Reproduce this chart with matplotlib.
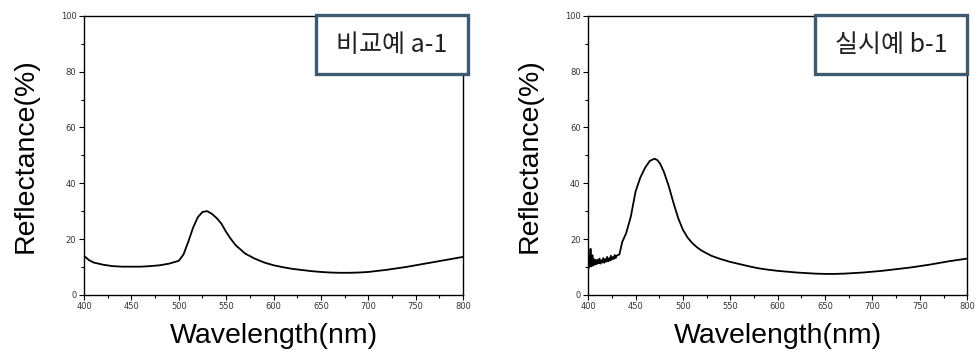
import matplotlib
matplotlib.use("Agg")
import matplotlib.pyplot as plt
from matplotlib.patches import Rectangle
from matplotlib.ticker import MultipleLocator

# 비교예 a-1
wl_a = [400, 405, 410, 420, 430, 440, 450, 460, 470, 480, 490, 500, 505, 510, 515,
        520, 525, 530, 535, 540, 545, 550, 555, 560, 570, 580, 590, 600, 610, 620,
        630, 640, 650, 660, 670, 680, 690, 700, 710, 720, 730, 740, 750, 760, 770,
        780, 790, 800]
ref_a = [14.0, 12.5, 11.6, 10.8, 10.3, 10.1, 10.1, 10.1, 10.3, 10.6, 11.2, 12.2, 14.5,
         19.0, 24.0, 27.8, 29.7, 30.0, 29.0, 27.5, 25.5, 22.5, 20.0, 17.8, 14.8, 13.0,
         11.6, 10.6, 9.9, 9.3, 8.9, 8.5, 8.2, 8.0, 7.9, 7.9, 8.0, 8.2, 8.6, 9.0, 9.5,
         10.0, 10.6, 11.2, 11.8, 12.4, 13.0, 13.6]

# 실시예 b-1 (시작 부분 노이즈 포함)
wl_b = [400, 400.5, 401, 401.5, 402, 402.5, 403, 403.5, 404, 404.5, 405, 406, 407,
        408, 409, 410, 411, 412, 413, 414, 415, 416, 417, 418, 419, 420, 421, 422,
        423, 424, 425, 426, 427, 428, 429, 430, 433, 436, 440, 445, 450, 455, 460,
        465, 470, 473, 476, 480, 485, 490, 495, 500, 505, 510, 515, 520, 530, 540,
        550, 560, 570, 580, 590, 600, 610, 620, 630, 640, 650, 660, 670, 680, 690,
        700, 710, 720, 730, 740, 750, 760, 770, 780, 790, 800]
ref_b = [11.0, 13.5, 9.8, 14.0, 10.5, 16.5, 10.2, 13.0, 11.0, 14.2, 10.4, 12.8, 10.8,
         12.5, 11.0, 12.6, 11.3, 13.0, 11.2, 12.4, 11.6, 13.2, 11.5, 12.8, 11.9, 13.6,
         12.0, 13.1, 12.3, 14.0, 12.6, 13.5, 12.9, 14.3, 13.2, 14.0, 14.5, 19.0, 22.0,
         28.0, 37.0, 42.0, 45.5, 48.0, 48.8, 48.3, 47.0, 44.0, 39.0, 33.0, 27.5, 23.3,
         20.5, 18.5, 17.0, 15.8, 14.0, 12.8, 11.8, 11.0, 10.2, 9.5, 9.0, 8.6, 8.3,
         8.0, 7.8, 7.6, 7.5, 7.5, 7.6, 7.8, 8.0, 8.3, 8.6, 9.0, 9.4, 9.8, 10.3, 10.8,
         11.4, 12.0, 12.5, 13.0]

labels = ["비교예 a-1", "실시예 b-1"]

fig = plt.figure(figsize=(9.77, 3.6), dpi=100)
ax1 = fig.add_axes([0.086, 0.181, 0.388, 0.775])
ax2 = fig.add_axes([0.602, 0.181, 0.388, 0.775])

for ax, x, y, lab, bx in [(ax1, wl_a, ref_a, labels[0], 0.3234),
                          (ax2, wl_b, ref_b, labels[1], 0.834)]:
    ax.plot(x, y, color="black", lw=1.3)
    ax.set_xlim(400, 800)
    ax.set_ylim(0, 100)
    ax.xaxis.set_major_locator(MultipleLocator(50))
    ax.xaxis.set_minor_locator(MultipleLocator(25))
    ax.yaxis.set_major_locator(MultipleLocator(20))
    ax.yaxis.set_minor_locator(MultipleLocator(10))
    ax.tick_params(which="both", direction="out", labelsize=6, labelcolor="#333333",
                   width=0.8, top=False, right=False, pad=2)
    ax.tick_params(which="major", length=3.5)
    ax.tick_params(which="minor", length=2)
    for s in ax.spines.values():
        s.set_linewidth(1.0)
    ax.set_xlabel("Wavelength(nm)", fontsize=20.5, family="Liberation Sans")
    ax.set_ylabel("Reflectance(%)", fontsize=20.5, family="Liberation Sans")
    ax.xaxis.set_label_coords(0.5, -0.10)
    ax.yaxis.set_label_coords(-0.12, 0.5)

    # 라벨 박스
    fig.patches.append(Rectangle((bx, 0.7944), 0.1556, 0.164, transform=fig.transFigure,
                                 facecolor="white", edgecolor="#3d5a73", lw=2.4, zorder=5))
    fig.text(bx + 0.0778, 0.876, lab, ha="center", va="center", fontsize=18,
             family=["Noto Sans CJK KR", "DejaVu Sans"], color="#222222", zorder=6)

fig.savefig("out.png", dpi=100)
